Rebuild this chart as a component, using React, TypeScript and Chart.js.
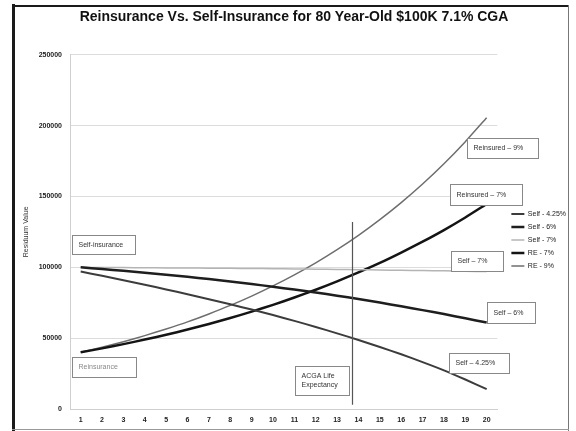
import { useEffect, useRef } from 'react';
import { Chart, registerables } from 'chart.js';

Chart.register(...registerables);

const YEARS = ['1', '2', '3', '4', '5', '6', '7', '8', '9', '10', '11', '12', '13', '14', '15', '16', '17', '18', '19', '20'];

const SELF_425 = [97000, 94000, 90900, 87700, 84400, 81000, 77500, 73900, 70200, 66300, 62200, 57900, 53400, 48700, 43800, 38600, 33100, 27300, 20800, 14000];
const SELF_6 = [100000, 98800, 97500, 96200, 94800, 93300, 91700, 90000, 88200, 86300, 84300, 82200, 80000, 77600, 75100, 72500, 69800, 67000, 64000, 61000];
const SELF_7 = [100000, 99900, 99800, 99700, 99600, 99500, 99400, 99300, 99200, 99000, 98900, 98700, 98500, 98300, 98100, 97900, 97700, 97500, 97200, 97000];
const RE_7 = [40000, 42800, 45800, 49000, 52400, 56100, 60000, 64200, 68700, 73500, 78700, 84200, 90100, 96400, 103100, 110400, 118100, 126300, 135200, 144700];
const RE_9 = [40000, 43600, 47500, 51800, 56500, 61500, 67100, 73100, 79700, 86900, 94700, 103200, 112500, 122600, 133700, 145700, 158800, 173100, 188700, 205600];

const SERIES_NAMES = ['Self - 4.25%', 'Self - 6%', 'Self - 7%', 'RE - 7%', 'RE - 9%'];

const Y_MIN = 0;
const Y_MAX = 250000;
const Y_STEP = 50000;

const TITLE = 'Reinsurance Vs. Self-Insurance for 80 Year-Old $100K 7.1% CGA';
const Y_TITLE = 'Residuum Value';

// ACGA life expectancy marker (year) and its vertical extent (value)
const LIFE_EXPECTANCY_YEAR = 13.7;
const LIFE_LINE_FROM = 3000;
const LIFE_LINE_TO = 132000;

// text boxes: anchored (top-left) at [year, value]
const NOTE_TEXTS = [['Self-insurance'], ['Reinsurance'], ['Reinsured \u2013 9%'], ['Reinsured \u2013 7%'], ['Self \u2013 7%'], ['Self \u2013 6%'], ['Self \u2013 4.25%'], ['ACGA Life', 'Expectancy']];
const NOTE_YEARS = [0.58, 0.58, 19.06, 18.27, 18.31, 20.0, 18.22, 11.01];
const NOTE_VALUES = [122900, 36700, 191400, 158900, 111600, 75600, 39500, 30400];
const NOTE_SIZES = [[63, 19], [64, 20], [71, 20], [72, 21], [52, 20], [48, 21], [60, 20], [54, 29]];
const NOTE_COLORS = ['#333', '#888', '#333', '#333', '#333', '#333', '#333', '#333'];

const FONT = "'Liberation Sans', Arial, sans-serif";

const decorPlugin = {
  id: 'decor',
  beforeDraw(chart: any) {
    const ctx = chart.ctx;
    ctx.save();
    ctx.fillStyle = '#ffffff';
    ctx.fillRect(0, 0, chart.width, chart.height);
    // outer frame
    ctx.fillStyle = '#1a1a1a';
    ctx.fillRect(12, 4, 3, chart.height - 4);
    ctx.fillRect(12, 5, 557, 2);
    ctx.fillStyle = '#777';
    ctx.fillRect(568, 5, 1, chart.height - 5);
    ctx.fillStyle = '#999';
    ctx.fillRect(12, 429, 557, 1);
    ctx.restore();
  },
  afterDatasetsDraw(chart: any) {
    const ctx = chart.ctx;
    const xs = chart.scales.x;
    const ys = chart.scales.y;
    ctx.save();
    // life expectancy line
    const lx = Math.round(xs.getPixelForValue(LIFE_EXPECTANCY_YEAR - 1)) + 0.5;
    ctx.strokeStyle = '#555';
    ctx.lineWidth = 1.2;
    ctx.beginPath();
    ctx.moveTo(lx, ys.getPixelForValue(LIFE_LINE_TO));
    ctx.lineTo(lx, ys.getPixelForValue(LIFE_LINE_FROM));
    ctx.stroke();
    // notes
    ctx.font = `7px ${FONT}`;
    ctx.textBaseline = 'middle';
    ctx.textAlign = 'left';
    NOTE_TEXTS.forEach((lines, i) => {
      const x = Math.round(xs.getPixelForValue(NOTE_YEARS[i] - 1)) + 0.5;
      const y = Math.round(ys.getPixelForValue(NOTE_VALUES[i])) + 0.5;
      const [w, h] = NOTE_SIZES[i];
      ctx.fillStyle = '#fff';
      ctx.fillRect(x, y, w, h);
      ctx.strokeStyle = '#888';
      ctx.lineWidth = 1;
      ctx.strokeRect(x, y, w, h);
      ctx.fillStyle = NOTE_COLORS[i];
      const lh = 9;
      const startY = y + h / 2 - ((lines.length - 1) * lh) / 2;
      lines.forEach((t, j) => ctx.fillText(t, x + 6, startY + j * lh));
    });
    ctx.restore();
  },
};

export default function App() {
  const ref = useRef<HTMLCanvasElement | null>(null);

  useEffect(() => {
    if (!ref.current) return;
    const chart = new Chart(ref.current, {
      type: 'line',
      data: {
        labels: YEARS,
        datasets: [
          { label: SERIES_NAMES[0], data: SELF_425, borderColor: '#3c3c3c', backgroundColor: '#3c3c3c', borderWidth: 2, pointRadius: 0, tension: 0.2 },
          { label: SERIES_NAMES[1], data: SELF_6, borderColor: '#1e1e1e', backgroundColor: '#1e1e1e', borderWidth: 2.5, pointRadius: 0, tension: 0.2 },
          { label: SERIES_NAMES[2], data: SELF_7, borderColor: '#b4b4b4', backgroundColor: '#b4b4b4', borderWidth: 1.5, pointRadius: 0, tension: 0.2 },
          { label: SERIES_NAMES[3], data: RE_7, borderColor: '#141414', backgroundColor: '#141414', borderWidth: 2.5, pointRadius: 0, tension: 0.2 },
          { label: SERIES_NAMES[4], data: RE_9, borderColor: '#6e6e6e', backgroundColor: '#6e6e6e', borderWidth: 1.5, pointRadius: 0, tension: 0.2 },
        ],
      },
      options: {
        responsive: false,
        animation: false,
        layout: { padding: { left: 12, right: 0, top: 0, bottom: 0 } },
        plugins: {
          title: {
            display: true,
            text: TITLE,
            color: '#111',
            font: { size: 14, weight: 'bold', family: FONT },
            padding: { top: 9, bottom: 29 },
          },
          legend: {
            position: 'right',
            fullSize: false,
            align: 'center',
            labels: {
              usePointStyle: true,
              pointStyle: 'line',
              pointStyleWidth: 13,
              padding: 6,
              color: '#222',
              font: { size: 7, family: FONT },
            },
            title: { display: true, text: ' ', font: { size: 10, lineHeight: 1.6 }, padding: 0 },
          },
          tooltip: { enabled: false },
        },
        scales: {
          x: {
            type: 'category',
            offset: true,
            grid: { display: false, drawTicks: false },
            border: { color: '#cfcfcf' },
            ticks: { color: '#222', font: { size: 7, weight: 'bold', family: FONT }, padding: 7, autoSkip: false, maxRotation: 0 },
            afterFit: (s: any) => { s.height = 22; },
          },
          y: {
            min: Y_MIN,
            max: Y_MAX,
            grid: { color: '#dcdcdc', drawTicks: false },
            border: { color: '#cfcfcf' },
            ticks: { stepSize: Y_STEP, color: '#222', font: { size: 7, weight: 'bold', family: FONT }, padding: 8, callback: (v: any) => String(v) },
            title: { display: true, text: Y_TITLE, color: '#333', font: { size: 7, family: FONT }, padding: { top: 10, bottom: 0 } },
            afterFit: (s: any) => { s.width = 58; },
          },
          yR: {
            type: 'linear',
            position: 'right',
            display: true,
            grid: { display: false },
            border: { display: false },
            ticks: { display: false },
            afterFit: (s: any) => { s.width = 8; },
          },
        },
      },
      plugins: [decorPlugin],
    });
    return () => chart.destroy();
  }, []);

  return (
    <div style={{ position: 'fixed', left: 0, top: 0, width: 576, height: 431, background: '#fff' }}>
      <canvas ref={ref} width={576} height={431} style={{ display: 'block' }} />
    </div>
  );
}
